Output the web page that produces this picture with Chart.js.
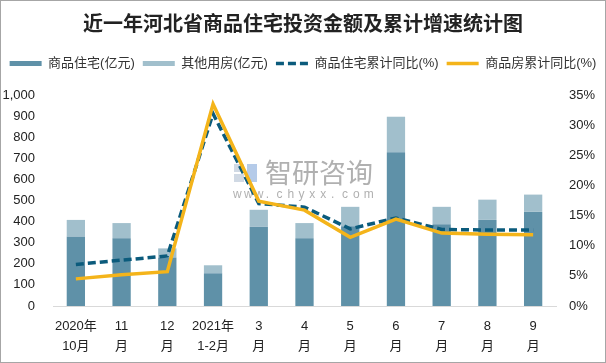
<!DOCTYPE html>
<html>
<head>
<meta charset="utf-8">
<script src="https://cdn.jsdelivr.net/npm/chart.js@4/dist/chart.umd.min.js"></script>
<style>
  body { margin: 0; background: #fff; }
  #wrap { width: 606px; height: 363px; position: relative; }
</style>
</head>
<body>
<div id="wrap"><canvas id="investChart" width="606" height="363"></canvas></div>
<script>
// Data
const months = [
    ['2020年', '10月'], ['11', '月'], ['12', '月'], ['2021年', '1-2月'],
    ['3', '月'], ['4', '月'], ['5', '月'], ['6', '月'], ['7', '月'], ['8', '月'], ['9', '月']
];
const housingInvest = [328, 321, 230, 155, 376, 321, 378, 729, 388, 408, 446];
const otherInvest = [80, 72, 43, 38, 80, 72, 92, 168, 82, 96, 82];
const housingYoY = [6.9, 7.6, 8.3, 31.9, 17.0, 16.4, 12.8, 14.6, 12.7, 12.6, 12.6];
const estateYoY = [4.5, 5.2, 5.7, 33.5, 17.4, 15.9, 11.4, 14.4, 12.1, 11.9, 11.8];

const leftTicks = [0, 100, 200, 300, 400, 500, 600, 700, 800, 900, 1000];
const rightTicks = [0, 5, 10, 15, 20, 25, 30, 35];

const FONT = "'Liberation Sans', 'Noto Sans CJK SC', sans-serif";

// Watermark + frame
const decorPlugin = {
    id: 'decor',
    beforeDatasetsDraw(chart) {
        const ctx = chart.ctx;
        ctx.save();
        // logo blocks
        ctx.fillStyle = 'rgba(170,185,205,0.55)';
        ctx.fillRect(234, 164, 10, 8);
        ctx.fillRect(234, 174, 10, 8);
        ctx.fillStyle = 'rgba(120,160,215,0.55)';
        ctx.fillRect(247, 164, 10, 18);
        ctx.fillStyle = 'rgba(150,150,150,0.75)';
        ctx.font = "27px 'Noto Sans CJK SC'";
        ctx.textBaseline = 'middle';
        ctx.fillText('智研咨询', 265, 173);
        ctx.font = "12px 'Liberation Sans'";
        const site = 'www.chyxx.com';
        for (let i = 0; i < site.length; i++) {
            ctx.fillText(site[i], 233 + i * 10.9, 195);
        }
        ctx.restore();
    },
    afterDraw(chart) {
        const ctx = chart.ctx;
        ctx.save();
        ctx.strokeStyle = '#a6a6a6';
        ctx.lineWidth = 1;
        ctx.strokeRect(0.5, 0.5, 605, 362);
        ctx.restore();
    }
};

// Extra space below the legend
const legendGap = {
    id: 'legendGap',
    beforeInit(chart) {
        const fit = chart.legend.fit;
        chart.legend.fit = function () {
            fit.bind(chart.legend)();
            this.height += 15;
        };
    }
};

const ctx = document.getElementById('investChart').getContext('2d');
new Chart(ctx, {
    type: 'bar',
    data: {
        labels: months,
        datasets: [
            {
                label: '商品住宅(亿元)',
                data: housingInvest,
                backgroundColor: '#5f91a8',
                stack: 'invest',
                yAxisID: 'y',
                barPercentage: 0.4,
                categoryPercentage: 1,
                order: 2
            },
            {
                label: '其他用房(亿元)',
                data: otherInvest,
                backgroundColor: '#a1bfcc',
                stack: 'invest',
                yAxisID: 'y',
                barPercentage: 0.4,
                categoryPercentage: 1,
                order: 2
            },
            {
                type: 'line',
                label: '商品住宅累计同比(%)',
                data: housingYoY,
                borderColor: '#0b5b7c',
                borderWidth: 3.5,
                borderDash: [8, 4],
                pointRadius: 0,
                tension: 0,
                yAxisID: 'y1',
                order: 1
            },
            {
                type: 'line',
                label: '商品房累计同比(%)',
                data: estateYoY,
                borderColor: '#f4b41a',
                borderWidth: 3.5,
                pointRadius: 0,
                tension: 0,
                yAxisID: 'y1',
                order: 0
            }
        ]
    },
    options: {
        responsive: false,
        animation: false,
        layout: {
            padding: { left: 0, right: 0, top: 0, bottom: 0 }
        },
        plugins: {
            title: {
                display: true,
                text: '近一年河北省商品住宅投资金额及累计增速统计图',
                color: '#222',
                font: { family: "'Noto Sans CJK SC'", size: 20, weight: 'bold' },
                padding: { top: 11, bottom: 14 }
            },
            legend: {
                display: true,
                position: 'top',
                labels: {
                    color: '#333',
                    font: { family: FONT, size: 13 },
                    padding: 8,
                    usePointStyle: true,
                    pointStyleWidth: 32,
                    generateLabels(chart) {
                        return chart.data.datasets.map((ds, i) => {
                            const isLine = ds.type === 'line';
                            const col = isLine ? ds.borderColor : ds.backgroundColor;
                            return {
                                text: ds.label,
                                fillStyle: col,
                                strokeStyle: col,
                                lineWidth: isLine ? 3.5 : 5,
                                lineDash: ds.borderDash || [],
                                lineCap: 'butt',
                                pointStyle: 'line',
                                fontColor: '#333',
                                datasetIndex: i
                            };
                        });
                    }
                }
            },
            tooltip: { enabled: false }
        },
        scales: {
            x: {
                stacked: true,
                grid: { display: false, drawTicks: false },
                border: { display: true, color: '#d9d9d9' },
                afterFit(scale) { scale.height = 57; },
                ticks: {
                    color: '#222',
                    font: { family: FONT, size: 13, lineHeight: 1.55 },
                    padding: 10,
                    maxRotation: 0,
                    autoSkip: false
                }
            },
            y: {
                position: 'left',
                stacked: true,
                min: 0,
                max: 1000,
                grid: { display: false, drawTicks: false },
                border: { display: false },
                afterBuildTicks(scale) {
                    scale.ticks = leftTicks.map(v => ({ value: v }));
                },
                afterFit(scale) { scale.width = 53; },
                ticks: {
                    color: '#222',
                    font: { family: FONT, size: 13 },
                    padding: 18,
                    autoSkip: false,
                    callback: v => v >= 1000 ? Math.floor(v / 1000) + ',' + String(v % 1000).padStart(3, '0') : String(v)
                }
            },
            y1: {
                position: 'right',
                min: 0,
                max: 35,
                grid: { display: false, drawTicks: false },
                border: { display: false },
                afterBuildTicks(scale) {
                    scale.ticks = rightTicks.map(v => ({ value: v }));
                },
                afterFit(scale) { scale.width = 50; },
                ticks: {
                    color: '#222',
                    font: { family: FONT, size: 13 },
                    padding: 13,
                    autoSkip: false,
                    callback: v => v + '%'
                }
            }
        }
    },
    plugins: [decorPlugin, legendGap]
});
</script>
</body>
</html>
